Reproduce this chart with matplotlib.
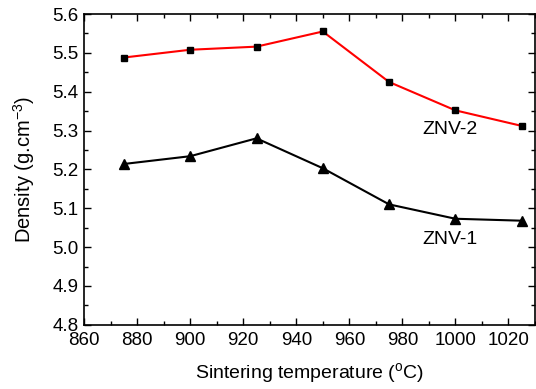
import matplotlib.pyplot as plt

temperature = [875, 900, 925, 950, 975, 1000, 1025]
density_znv2 = [5.488, 5.508, 5.516, 5.555, 5.425, 5.352, 5.312]
density_znv1 = [5.214, 5.234, 5.280, 5.203, 5.110, 5.073, 5.068]

xticks = [860, 880, 900, 920, 940, 960, 980, 1000, 1020]
yticks = [4.8, 4.9, 5.0, 5.1, 5.2, 5.3, 5.4, 5.5, 5.6]


def main():
    plt.rcParams['font.family'] = ['Liberation Sans', 'DejaVu Sans']
    plt.rcParams['mathtext.fontset'] = 'custom'
    plt.rcParams['mathtext.rm'] = 'Liberation Sans'

    fig = plt.figure(figsize=(5.36, 3.89), dpi=100)
    ax = fig.add_axes([0.157, 0.165, 0.841, 0.799])

    ax.plot(temperature, density_znv2, color='red', lw=1.5,
            marker='s', ms=5, mfc='black', mec='black')
    ax.plot(temperature, density_znv1, color='black', lw=1.5,
            marker='^', ms=6.5, mfc='black', mec='black')

    ax.text(998, 5.302, 'ZNV-2', fontsize=14, ha='center', va='center')
    ax.text(998, 5.019, 'ZNV-1', fontsize=14, ha='center', va='center')

    ax.set_xlim(860, 1030)
    ax.set_ylim(4.8, 5.6)
    ax.set_xticks(xticks)
    ax.set_yticks(yticks)
    ax.set_xticks([870 + 20 * i for i in range(9)], minor=True)
    ax.set_yticks([4.85 + 0.1 * i for i in range(8)], minor=True)
    ax.set_yticklabels(['%.1f' % v for v in yticks])

    ax.tick_params(which='both', direction='in', top=True, right=True,
                   labelsize=13.5, width=1)
    ax.tick_params(which='major', length=5)
    ax.tick_params(which='minor', length=3)
    ax.tick_params(axis='x', pad=5)
    ax.tick_params(axis='y', pad=4)
    for s in ax.spines.values():
        s.set_linewidth(1.2)

    ax.set_xlabel('Sintering temperature ($^{\\rm o}$C)', fontsize=14, labelpad=9)
    ax.set_ylabel('Density (g.cm$^{-3}$)', fontsize=14.5, labelpad=11)

    fig.savefig('out.png', dpi=100)


if __name__ == "__main__":
    main()
